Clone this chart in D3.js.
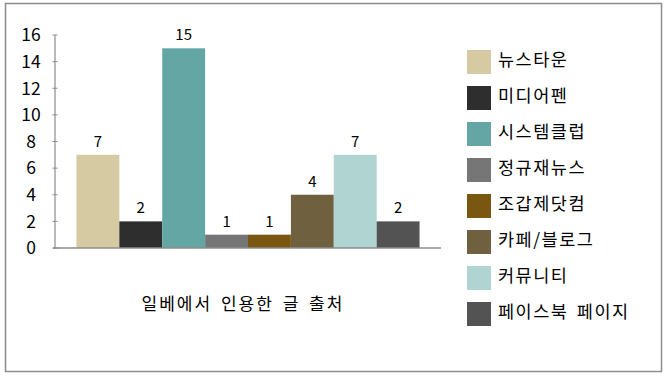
<!DOCTYPE html>
<html><head><meta charset="utf-8">
<script src="https://cdn.jsdelivr.net/npm/d3@7"></script>
<style>body{margin:0;background:#fff}svg{display:block}text{font-family:"Noto Sans CJK KR","Noto Sans",sans-serif;fill:#000}</style>
</head><body><svg id="c" width="667" height="377"></svg>
<script>
const categories = ["뉴스타운","미디어펜","시스템클럽","정규재뉴스","조갑제닷컴","카페/블로그","커뮤니티","페이스북 페이지"];
const values = [7,2,15,1,1,4,7,2];
const colors = ["#D5CAA2","#2E2E2E","#64A6A4","#767676","#7A5711","#6F6040","#AFD4D2","#535353"];
const yTicks = [0,2,4,6,8,10,12,14,16];
const title = "일베에서 인용한 글 출처";

const svg = d3.select("#c");
svg.append("rect").attr("x",5.5).attr("y",3.5).attr("width",656).attr("height",368)
  .attr("fill","#fff").attr("stroke","#8c8c8c").attr("stroke-width",1.5);

const x0 = 55, x1 = 441, yB = 248, yT = 35;
const y = d3.scaleLinear().domain([0,16]).range([yB,yT]);
const x = d3.scaleBand().domain(categories).range([x0,x1]).paddingInner(0).paddingOuter(0.5);

const g = svg.append("g");
g.selectAll("rect.bar").data(values).join("rect")
  .attr("x",(d,i)=>x(categories[i])).attr("width",x.bandwidth())
  .attr("y",d=>y(d)).attr("height",d=>yB-y(d)).attr("fill",(d,i)=>colors[i]);

g.selectAll("text.lbl").data(values).join("text")
  .attr("x",(d,i)=>x(categories[i])+x.bandwidth()/2).attr("y",d=>y(d)-8)
  .attr("text-anchor","middle").attr("font-size",15).text(d=>d);

// y axis
const ya = svg.append("g");
ya.append("line").attr("x1",x0).attr("x2",x0).attr("y1",y(16)).attr("y2",yB).attr("stroke","#8c8c8c").attr("stroke-width",1.2);
ya.selectAll("line.t").data(yTicks).join("line").attr("class","t")
  .attr("x1",x0-2.5).attr("x2",x0+2.5).attr("y1",d=>y(d)).attr("y2",d=>y(d)).attr("stroke","#8c8c8c");
ya.selectAll("text").data(yTicks).join("text")
  .attr("x",31).attr("y",d=>y(d)).attr("dy","0.36em").attr("text-anchor","middle")
  .attr("font-size",17.5).text(d=>d);
svg.append("line").attr("x1",x0-2).attr("x2",x1).attr("y1",yB).attr("y2",yB).attr("stroke","#8c8c8c").attr("stroke-width",1.5);

svg.append("text").attr("x",243).attr("y",304).attr("dy","0.36em").attr("text-anchor","middle")
  .attr("font-size",17).attr("letter-spacing",2).attr("word-spacing",3).text(title);

// legend
const lg = svg.append("g");
const items = lg.selectAll("g").data(categories).join("g").attr("transform",(d,i)=>`translate(467,${50+i*36})`);
items.append("rect").attr("width",24).attr("height",24).attr("fill",(d,i)=>colors[i]);
items.append("text").attr("x",31).attr("y",10).attr("dy","0.36em").attr("font-size",17.5)
  .attr("letter-spacing",1.5).attr("word-spacing",3).text(d=>d);
</script></body></html>
